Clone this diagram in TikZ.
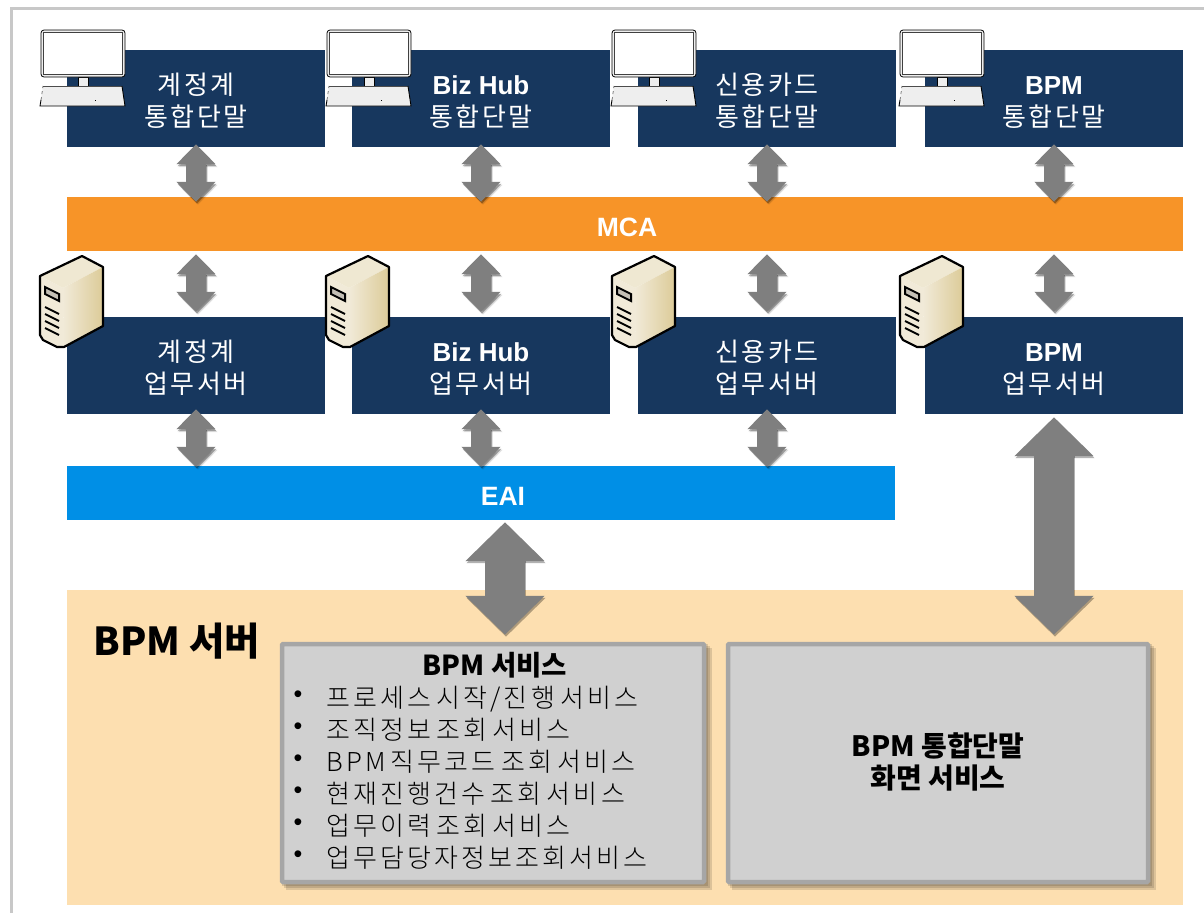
\documentclass[tikz,border=0pt]{standalone}
\usepackage{fontspec}
\usetikzlibrary{arrows.meta}
\setmainfont{Liberation Sans}
\newfontfamily\kr[LetterSpace=10]{Noto Sans CJK KR}
\newfontfamily\krb{Noto Sans CJK KR}
\newfontfamily\krl[LetterSpace=12,WordSpace=0.6]{Noto Sans CJK KR Light}
\definecolor{navy}{HTML}{17375E}
\definecolor{mcac}{HTML}{F79428}
\definecolor{eaic}{HTML}{008FE6}
\definecolor{peach}{HTML}{FDDFB0}
\definecolor{frameg}{HTML}{C8C8C8}
\definecolor{arrowg}{HTML}{7F7F7F}
\definecolor{boxg}{HTML}{D0D0D0}
\definecolor{boxline}{HTML}{A6A6A6}
\definecolor{kbd}{HTML}{EEEEEE}
\definecolor{srvtop}{HTML}{EFE8D2}
\definecolor{srvfront}{HTML}{F1EAD8}
\definecolor{srvside}{HTML}{DCCB98}
\newcommand{\kbig}{\fontsize{26}{32}\selectfont}
\newcommand{\twolines}[2]{\rule{0pt}{27pt}#1\\#2\rule[-4pt]{0pt}{4pt}}
\tikzset{
  x=1pt,y=-1pt,
  darkbox/.style={fill=navy,text=white,minimum width=258pt,minimum height=97pt,inner sep=0pt,align=center,font=\kbig},
  barbox/.style={text=white,minimum height=54pt,inner sep=0pt,font=\bfseries\fontsize{26.5}{30}\selectfont},
  small/.style={line width=20pt,draw=arrowg,arrows={Triangle[length=20pt,width=38pt]-Triangle[length=20pt,width=38pt]}},
  big/.style={line width=40pt,draw=arrowg,arrows={Triangle[length=39pt,width=77pt]-Triangle[length=39pt,width=77pt]}},
  shad/.style={draw=black,opacity=.3,transform canvas={xshift=1pt,yshift=-2pt}},
  shadb/.style={draw=black,opacity=.12,transform canvas={xshift=2pt,yshift=-3pt}},
  softshadow/.style={fill=black,opacity=.13,inner sep=0pt,minimum height=242pt},
  greybox/.style={fill=boxg,draw=boxline,line width=4.5pt,rounded corners=1pt,inner sep=0pt,minimum height=238pt},
  item/.style={anchor=base west,inner sep=0pt,text=black,font=\krl\fontsize{26}{30}\selectfont},
  bul/.style={inner sep=0pt,text=black,font=\fontsize{25}{30}\selectfont},
  pics/monitor/.style={code={
    \draw[fill=kbd,draw=black,line width=.7pt] (38,47) rectangle (48,57);
    \draw[fill=kbd,draw=black,line width=.8pt,rounded corners=3pt] (1,0) rectangle (85,47);
    \draw[fill=white,draw=black!75,line width=.7pt] (3.5,2.5) rectangle (82.5,44.5);
    \path[fill=kbd] (3,56) -- (82,56) -- (85,76) -- (0,76) -- cycle;
    \draw[black!70,line width=.7pt] (3,56) -- (82,56);
    \draw[line width=.9pt] (82,56) -- (85,76) -- (0,76) -- (1,70);
    \draw[black!70,line width=.6pt,dashed] (1,70) -- (3,56);
    \fill[black] (55,70) rectangle (56,71);
  }},
  pics/servericon/.style={code={
    \path[fill=srvfront] (0,21) -- (23,33) -- (24,92) -- (17,92) -- (3,85) -- (0,80) -- cycle;
    \path[fill=srvtop] (0,21) -- (42,1) -- (63,12) -- (23,33) -- cycle;
    \path[left color=srvfront,right color=srvside] (23,33) -- (63,12) -- (63,71) -- (24,92) -- cycle;
    \draw[line width=2.2pt,line join=round] (0,21) -- (42,1) -- (63,12) -- (63,71) -- (24,92) -- (17,92) -- (3,85) -- (0,80) -- cycle;
    \draw[fill=srvfront!60!gray,line width=2pt] (5,32) -- (19,39) -- (19,46) -- (5,39) -- cycle;
    \foreach \yy in {52,59,66,73} \draw[line width=2pt] (5,\yy) -- (19,\yy+7);
  }},
}
\begin{document}
\begin{tikzpicture}
\useasboundingbox (0,0) rectangle (1204,913);
% frame
\draw[frameg,line width=3pt] (11.5,913) -- (11.5,8) -- (1204,8);
% bars
\node[darkbox] (t1) at (196,98.5) {\twolines{\kr 계정계}{\kr 통합단말}};
\node[darkbox] (t2) at (481,98.5) {\twolines{\bfseries Biz Hub}{\kr 통합단말}};
\node[darkbox] (t3) at (767,98.5) {\twolines{\kr 신용카드}{\kr 통합단말}};
\node[darkbox] (t4) at (1054,98.5) {\twolines{\bfseries BPM}{\kr 통합단말}};
\node[barbox,fill=mcac,minimum width=1116pt] (mca) at (625,224) {\rule{0pt}{25pt}\hspace*{4pt}MCA};
\node[darkbox] (s1) at (196,365.5) {\twolines{\kr 계정계}{\kr 업무서버}};
\node[darkbox] (s2) at (481,365.5) {\twolines{\bfseries Biz Hub}{\kr 업무서버}};
\node[darkbox] (s3) at (767,365.5) {\twolines{\kr 신용카드}{\kr 업무서버}};
\node[darkbox] (s4) at (1054,365.5) {\twolines{\bfseries BPM}{\kr 업무서버}};
\node[barbox,fill=eaic,minimum width=828pt] (eai) at (481,493) {\rule{0pt}{25pt}\hspace*{44pt}EAI};
% BPM server
\node[fill=peach,minimum width=1116pt,minimum height=315pt,inner sep=0pt] (bpm) at (625,747.5) {};
\node[inner sep=0pt,font=\krb\bfseries\fontsize{38.5}{44}\selectfont] (bpmt) at (177,641) {BPM 서버};
\foreach \d in {2,4,6}{
  \node[softshadow,minimum width=426pt] (sa\d) at (493+\d,763+\d) {};
  \node[softshadow,minimum width=424pt] (sb\d) at (938+\d,763+\d) {};
}
\node[greybox,minimum width=422pt] (svc) at (493,763) {};
\node[greybox,minimum width=420pt,align=center,font=\krb\bfseries\fontsize{28}{32}\selectfont] (rbox) at (938,763) {BPM 통합단말\\화면 서비스\rule[-4pt]{0pt}{4pt}};
\node[inner sep=0pt,font=\krb\bfseries\fontsize{27.5}{30}\selectfont] (svct) at (495,665) {BPM 서비스};
\foreach \yy/\txt [count=\i] in {697/{프로세스 시작/진행 서비스},729/조직정보 조회 서비스,761/BPM 직무코드 조회 서비스,793/현재진행건수 조회 서비스,825/업무이력 조회 서비스,857/업무담당자정보조회서비스}{
  \node[bul] (b\i) at (298,\yy) {•};
  \node[item] (i\i) at (326,\yy+10) {\txt};
}
% arrows
\foreach \n in {t1,t2,t3,t4}{
  \draw[small,shadb,shorten <=-3pt,shorten >=-5pt] (\n.south) -- (\n.south |- mca.north);
  \draw[small,shad,shorten <=-3pt,shorten >=-5pt] (\n.south) -- (\n.south |- mca.north);
  \draw[small,shorten <=-3pt,shorten >=-5pt] (\n.south) -- (\n.south |- mca.north);
}
\foreach \n in {s1,s2,s3,s4}{
  \draw[small,shadb,shorten <=3pt,shorten >=5pt] (\n.north |- mca.south) -- (\n.north);
  \draw[small,shad,shorten <=3pt,shorten >=5pt] (\n.north |- mca.south) -- (\n.north);
  \draw[small,shorten <=3pt,shorten >=5pt] (\n.north |- mca.south) -- (\n.north);
}
\foreach \n in {s1,s2,s3}{
  \draw[small,shadb,shorten <=-5pt,shorten >=-1pt] (\n.south) -- (\n.south |- eai.north);
  \draw[small,shad,shorten <=-5pt,shorten >=-1pt] (\n.south) -- (\n.south |- eai.north);
  \draw[small,shorten <=-5pt,shorten >=-1pt] (\n.south) -- (\n.south |- eai.north);
}
\draw[big,shad,shorten <=2pt,shorten >=7pt] ([xshift=24pt]eai.south) -- ([xshift=12pt]svc.north);
\draw[big,shorten <=2pt,shorten >=7pt] ([xshift=24pt]eai.south) -- ([xshift=12pt]svc.north);
\draw[big,shad,shorten <=3pt,shorten >=7pt] (s4.south) -- ([xshift=116pt]rbox.north);
\draw[big,shorten <=3pt,shorten >=7pt] (s4.south) -- ([xshift=116pt]rbox.north);
% icons
\foreach \xx in {40,326,611,899} \pic at (\xx,30) {monitor};
\foreach \xx in {40,326,612,900} \pic at (\xx,255) {servericon};
\end{tikzpicture}
\end{document}
